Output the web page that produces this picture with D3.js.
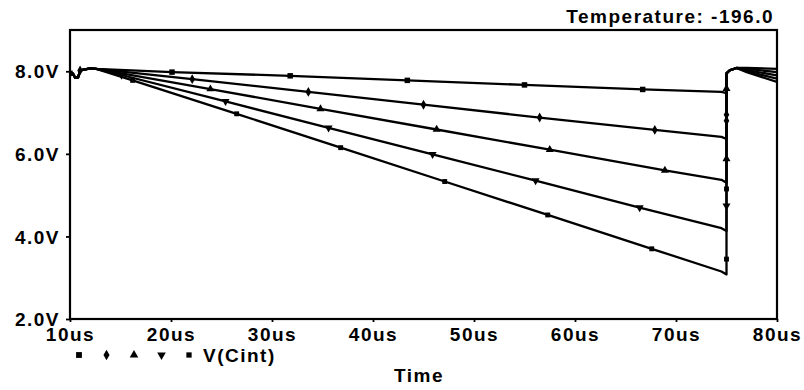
<!DOCTYPE html>
<html>
<head>
<meta charset="utf-8">
<script src="https://cdn.jsdelivr.net/npm/d3@7"></script>
<style>
  html, body { margin: 0; padding: 0; background: #fff; }
  svg text {
    font-family: 'Liberation Sans', Arial, sans-serif;
    font-weight: bold;
    font-size: 19px;
    letter-spacing: 1.5px;
    fill: #000;
  }
</style>
</head>
<body>
<svg></svg>
<script>
// 座標軸刻度
const xTicks = [10, 20, 30, 40, 50, 60, 70, 80];
const xTickLabels = ['10us', '20us', '30us', '40us', '50us', '60us', '70us', '80us'];
const yTicks = [2, 4, 6, 8];
const yTickLabels = ['2.0V', '4.0V', '6.0V', '8.0V'];

// V(Cint) 五條曲線 [時間 us, 電壓 V]
const run1 = [[10.0, 7.95], [10.3, 7.94], [10.5, 7.85], [10.8, 7.85], [11.0, 8.02], [12.0, 8.07], [12.6, 8.06],
  [20.1, 7.98], [31.8, 7.89], [43.4, 7.78], [55.0, 7.67], [66.7, 7.56], [74.5, 7.50], [75.0, 7.47],
  [75.0, 7.95], [75.3, 8.02], [76.0, 8.08], [77.0, 8.08], [80.0, 8.06]];
const run2 = [[10.0, 7.95], [10.3, 7.94], [10.5, 7.85], [10.8, 7.85], [11.0, 8.02], [12.0, 8.07], [12.6, 8.06],
  [22.1, 7.81], [33.6, 7.50], [45.0, 7.19], [56.5, 6.88], [67.9, 6.58], [74.5, 6.41], [75.0, 6.36],
  [75.0, 6.80], [75.0, 6.95], [75.0, 7.95], [75.3, 8.02], [76.0, 8.08], [77.0, 8.06], [80.0, 7.98]];
const run3 = [[10.0, 7.95], [10.3, 7.94], [10.5, 7.85], [10.8, 7.85], [11.0, 8.02], [12.0, 8.07], [12.6, 8.06],
  [23.9, 7.57], [34.8, 7.09], [46.3, 6.59], [57.5, 6.10], [68.9, 5.60], [74.5, 5.37], [75.0, 5.30],
  [75.0, 5.88], [75.0, 7.58], [75.0, 7.95], [75.3, 8.02], [76.0, 8.08], [77.0, 8.03], [80.0, 7.90]];
const run4 = [[10.0, 7.95], [10.3, 7.94], [10.5, 7.85], [10.8, 7.85], [11.0, 8.02], [12.0, 8.07], [12.6, 8.06],
  [15.1, 7.91], [25.4, 7.27], [35.6, 6.63], [45.9, 5.99], [56.1, 5.35], [66.4, 4.70], [74.5, 4.20], [75.0, 4.13],
  [75.0, 4.74], [75.0, 7.95], [75.3, 8.02], [76.0, 8.08], [77.0, 8.00], [80.0, 7.82]];
const run5 = [[10.0, 7.95], [10.3, 7.94], [10.5, 7.85], [10.8, 7.85], [11.0, 8.02], [12.0, 8.07], [12.6, 8.06],
  [16.2, 7.78], [26.5, 6.97], [36.8, 6.15], [47.1, 5.33], [57.3, 4.52], [67.6, 3.70], [74.5, 3.15], [75.0, 3.08],
  [75.0, 3.45], [75.0, 5.15], [75.0, 7.95], [75.3, 8.02], [76.0, 8.08], [77.0, 7.98], [80.0, 7.74]];

// 每條曲線上畫標記的點 (索引)
const marks1 = [0, 7, 8, 9, 10, 11];
const marks2 = [4, 7, 8, 9, 10, 11, 14, 15];
const marks3 = [7, 8, 9, 10, 11, 14, 15];
const marks4 = [7, 8, 9, 10, 11, 12, 15];
const marks5 = [7, 8, 9, 10, 11, 12, 15, 16];

const runs = [run1, run2, run3, run4, run5];
const marks = [marks1, marks2, marks3, marks4, marks5];

const width = 804;
const height = 390;
const mLeft = 70, mRight = 777, mTop = 30, mBottom = 319;

var svg = d3.select('svg').attr('width', width).attr('height', height);

var x = d3.scaleLinear().domain([10, 80]).range([mLeft, mRight]);
var y = d3.scaleLinear().domain([2, 9]).range([mBottom, mTop]);

// 標記形狀: 方形、菱形、三角、倒三角、小方形
const symbols = [
  { type: d3.symbolSquare, size: 30, rotate: 0 },
  { type: d3.symbolDiamond, size: 28, rotate: 0 },
  { type: d3.symbolTriangle, size: 28, rotate: 0 },
  { type: d3.symbolTriangle, size: 28, rotate: 180 },
  { type: d3.symbolSquare, size: 24, rotate: 0 },
];

svg.append('defs').append('clipPath').attr('id', 'plot-clip')
  .append('rect')
  .attr('x', mLeft).attr('y', mTop)
  .attr('width', mRight - mLeft).attr('height', mBottom - mTop);

// X 軸 (下方)
const xAxis = svg.append('g')
  .attr('transform', `translate(0,${mBottom})`)
  .call(d3.axisBottom(x).tickValues(xTicks).tickSize(3).tickFormat((d, i) => xTickLabels[i]));
xAxis.select('.domain').remove();
xAxis.selectAll('.tick line').attr('stroke', '#000').attr('stroke-width', 1.8);
xAxis.selectAll('.tick text').attr('y', 9).attr('dy', '0.71em');
xAxis.attr('font-size', null).attr('font-family', null);

// Y 軸 (左方)
const yAxis = svg.append('g')
  .attr('transform', `translate(${mLeft},0)`)
  .call(d3.axisLeft(y).tickValues(yTicks).tickSize(4).tickFormat((d, i) => yTickLabels[i]));
yAxis.select('.domain').remove();
yAxis.selectAll('.tick line').attr('stroke', '#000').attr('stroke-width', 1.8);
yAxis.selectAll('.tick text').attr('x', -10).attr('dy', '0.35em');
yAxis.attr('font-size', null).attr('font-family', null);

// 外框
svg.append('rect')
  .attr('x', mLeft).attr('y', mTop)
  .attr('width', mRight - mLeft).attr('height', mBottom - mTop)
  .attr('fill', 'none')
  .attr('stroke', '#000')
  .attr('stroke-width', 2.2);

const line = d3.line().x((d) => x(d[0])).y((d) => y(d[1]));

const plot = svg.append('g').attr('clip-path', 'url(#plot-clip)');

runs.forEach((run, i) => {
  plot.append('path')
    .datum(run)
    .attr('d', line)
    .attr('fill', 'none')
    .attr('stroke', '#000')
    .attr('stroke-width', 2.3)
    .attr('stroke-linejoin', 'round');

  const s = symbols[i];
  plot.selectAll(null)
    .data(marks[i].map((k) => run[k]))
    .enter()
    .append('path')
    .attr('d', d3.symbol().type(s.type).size(s.size))
    .attr('transform', (d) => `translate(${x(d[0])},${y(d[1])}) rotate(${s.rotate})`)
    .attr('fill', '#000');
});

// 圖例
const legend = svg.append('g');
symbols.forEach((s, i) => {
  legend.append('path')
    .attr('d', d3.symbol().type(s.type).size(s.size + 4))
    .attr('transform', `translate(${79 + i * 27.5},355) rotate(${s.rotate})`)
    .attr('fill', '#000');
});
legend.append('text')
  .attr('x', 203)
  .attr('y', 362)
  .text('V(Cint)');

// 標題與軸名
svg.append('text')
  .attr('x', 774)
  .attr('y', 23)
  .attr('text-anchor', 'end')
  .text('Temperature: -196.0');

svg.append('text')
  .attr('x', 419)
  .attr('y', 382)
  .attr('text-anchor', 'middle')
  .text('Time');
</script>
</body>
</html>
